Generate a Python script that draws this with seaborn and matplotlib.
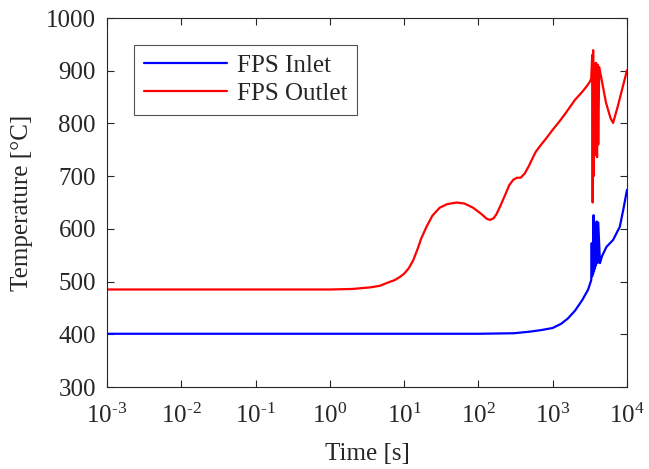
import numpy as np
import pandas as pd
import matplotlib
matplotlib.use("Agg")
import matplotlib.pyplot as plt
import seaborn as sns

# FPS outlet temperature
t_outlet = [1e-3, 1, 2, 3.5, 4.7, 6, 7.5, 8.8, 10, 11.5, 13.3, 15, 17, 20, 24, 30, 38,
            51, 65, 85, 110, 130, 143, 160, 175, 195, 230, 260, 294, 330, 370, 420,
            480, 540, 590, 700, 800, 1000, 1250, 1500, 2000, 2500, 2850, 3160, 3300,
            3400, 3450, 3500, 3550, 3600, 3650, 3700, 3750, 3800, 3850, 3900, 3950,
            4000, 4100, 4230, 4600, 5200, 6000, 6500, 7500, 8500, 1e4]
T_outlet = [485, 485, 486, 489, 492, 498, 503, 509, 515, 525, 541, 560, 582, 604, 625, 640, 647,
            650, 648, 640, 628, 619, 617, 620, 628, 642, 665, 683, 693, 697, 697, 705,
            720, 735, 746, 760, 770, 788, 805, 820, 845, 860, 870, 879, 885,
            930, 650, 939, 700, 905, 750, 910, 740, 915, 745, 900, 736,
            912, 760, 907, 880, 840, 810, 801, 832, 862, 901]

# FPS inlet temperature
t_inlet = [1e-3, 1, 10, 100, 300, 490, 700, 1000, 1300, 1600, 2000, 2500, 3000, 3300,
           3350, 3400, 3450, 3500, 3550, 3600, 3650, 3700, 3750, 3800, 3900, 4000,
           4100, 4330, 4600, 5300, 6500, 8000, 8900, 1e4]
T_inlet = [401, 401, 401, 401, 402, 405, 408, 412, 420, 430, 445, 465, 485, 503,
           573, 510, 560, 515, 626, 520, 610, 525, 600, 530, 614, 535,
           612, 535, 548, 566, 579, 604, 636, 674]

df = pd.concat([
    pd.DataFrame({"Time": t_inlet, "Temp": T_inlet, "series": "FPS Inlet"}),
    pd.DataFrame({"Time": t_outlet, "Temp": T_outlet, "series": "FPS Outlet"}),
])

sns.set_style("ticks")
plt.rcParams["font.family"] = "serif"
plt.rcParams["font.serif"] = ["Liberation Serif", "DejaVu Serif"]
plt.rcParams["mathtext.fontset"] = "custom"
plt.rcParams["mathtext.rm"] = "Liberation Serif"
plt.rcParams["mathtext.it"] = "Liberation Serif:italic"

fig = plt.figure(figsize=(6.49, 4.69), dpi=100)
ax = fig.add_axes([0.1649, 0.1748, 0.8012, 0.7868])

sns.lineplot(data=df, x="Time", y="Temp", hue="series", estimator=None, sort=False,
             palette={"FPS Inlet": "#0000FF", "FPS Outlet": "#FF0000"},
             linewidth=1.6, ax=ax)

ax.set_xscale("log")
ax.set_xlim(1e-3, 1e4)
ax.set_ylim(300, 1000)
ax.set_yticks(np.arange(300, 1001, 100))
ax.set_xticks([1e-3, 1e-2, 1e-1, 1, 10, 100, 1e3, 1e4])
ax.xaxis.set_major_formatter(matplotlib.ticker.FuncFormatter(
    lambda v, p: "10$^{\\mathrm{%s}}$" % str(int(round(np.log10(v)))).replace("-", "\\text{-}")))
ax.tick_params(which="both", direction="in", top=True, right=True, labelsize=18,
               colors="#262626")
ax.tick_params(which="major", length=5, width=0.8)
ax.tick_params(which="minor", length=3, width=0.6)
ax.tick_params(axis="x", pad=12)
ax.tick_params(axis="y", pad=8)
for sp in ax.spines.values():
    sp.set_visible(True)
    sp.set_color("#262626")
    sp.set_linewidth(0.8)

ax.set_xlabel("Time [s]", fontsize=18, labelpad=11)
ax.set_ylabel("Temperature [°C]", fontsize=18, labelpad=9)

leg = ax.legend(loc="upper left", fontsize=18, handlelength=3.3, frameon=True,
                fancybox=False, bbox_to_anchor=(0.052, 0.928), borderaxespad=0,
                borderpad=0.4, labelspacing=0.2, handletextpad=0.4)
leg.get_frame().set_edgecolor("#262626")
leg.get_frame().set_linewidth(0.8)
for line in leg.get_lines():
    line.set_linewidth(1.6)

fig.savefig("out.png", dpi=100)
